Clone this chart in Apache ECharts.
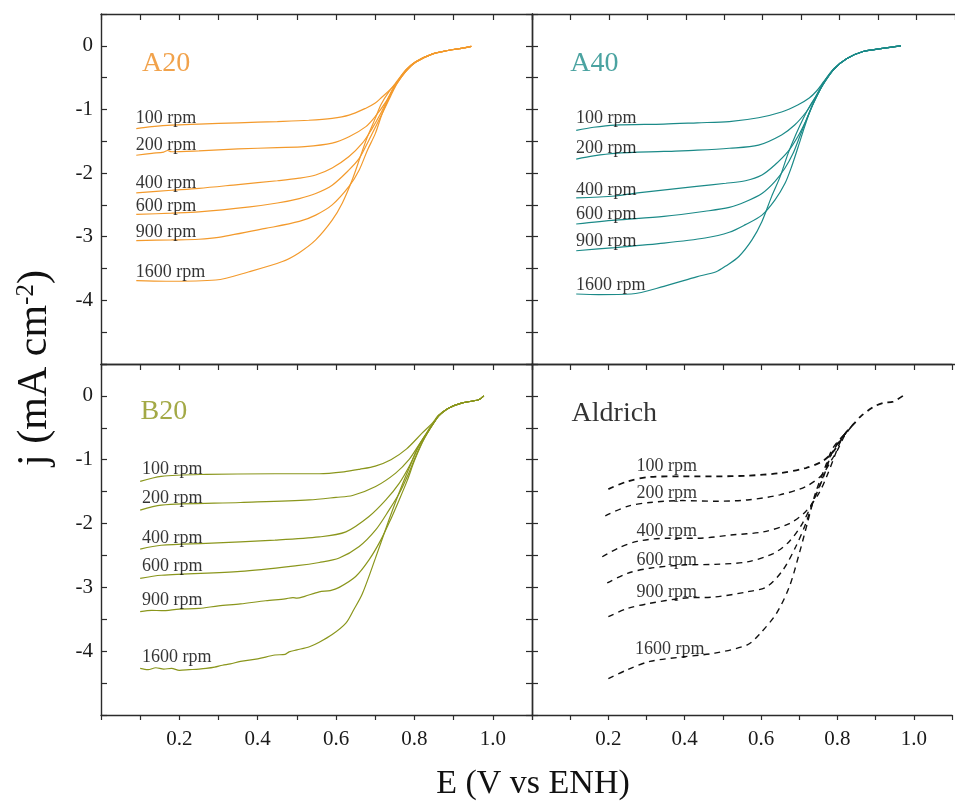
<!DOCTYPE html>
<html><head><meta charset="utf-8">
<script src="https://cdn.jsdelivr.net/npm/echarts@6/dist/echarts.min.js"></script>
<style>html,body{margin:0;padding:0;background:#fff}#c{width:955px;height:801px}</style>
</head><body><div id="c"></div>
<script>
// ---------- DATA (E in V vs ENH, j in mA cm^-2) ----------
const rpmLabels = ['100 rpm','200 rpm','400 rpm','600 rpm','900 rpm','1600 rpm'];
const panelNames = ['A20','A40','B20','Aldrich'];
const xTickLabels = [0.2,0.4,0.6,0.8,1.0];
const yTickLabels = [0,-1,-2,-3,-4];

// A20
const a20_100 = [[0.09,-1.30],[0.13,-1.27],[0.18,-1.245],[0.25,-1.23],[0.35,-1.21],[0.45,-1.19],[0.53,-1.17],[0.59,-1.14],[0.633,-1.09],[0.676,-0.98],[0.70,-0.90],[0.718,-0.80],[0.739,-0.68],[0.755,-0.56],[0.778,-0.38],[0.803,-0.25],[0.845,-0.13],[0.888,-0.07],[0.92,-0.04],[0.945,-0.01]];
const a20_200 = [[0.09,-1.72],[0.13,-1.69],[0.16,-1.67],[0.17,-1.645],[0.18,-1.665],[0.25,-1.65],[0.35,-1.62],[0.45,-1.60],[0.52,-1.585],[0.59,-1.53],[0.633,-1.43],[0.676,-1.27],[0.70,-1.11],[0.727,-0.88],[0.743,-0.70],[0.755,-0.58],[0.778,-0.38],[0.803,-0.25],[0.845,-0.13],[0.888,-0.07],[0.92,-0.04],[0.945,-0.01]];
const a20_400 = [[0.09,-2.31],[0.18,-2.27],[0.25,-2.24],[0.35,-2.18],[0.45,-2.12],[0.506,-2.08],[0.548,-2.03],[0.59,-1.92],[0.633,-1.74],[0.667,-1.53],[0.69,-1.32],[0.714,-1.06],[0.735,-0.80],[0.752,-0.60],[0.778,-0.39],[0.803,-0.25],[0.845,-0.13],[0.888,-0.07],[0.92,-0.04],[0.945,-0.01]];
const a20_600 = [[0.09,-2.65],[0.18,-2.63],[0.25,-2.61],[0.38,-2.53],[0.45,-2.47],[0.506,-2.40],[0.548,-2.32],[0.59,-2.19],[0.633,-1.95],[0.659,-1.77],[0.684,-1.48],[0.705,-1.22],[0.722,-1.01],[0.74,-0.78],[0.755,-0.60],[0.778,-0.40],[0.803,-0.26],[0.845,-0.13],[0.888,-0.07],[0.92,-0.04],[0.945,-0.01]];
const a20_900 = [[0.09,-3.06],[0.18,-3.05],[0.25,-3.04],[0.30,-3.01],[0.42,-2.87],[0.506,-2.76],[0.548,-2.66],[0.59,-2.50],[0.633,-2.21],[0.659,-1.95],[0.68,-1.64],[0.70,-1.38],[0.718,-1.06],[0.735,-0.82],[0.752,-0.62],[0.778,-0.40],[0.803,-0.26],[0.845,-0.13],[0.888,-0.07],[0.92,-0.04],[0.945,-0.01]];
const a20_1600 = [[0.09,-3.69],[0.166,-3.70],[0.293,-3.68],[0.378,-3.55],[0.463,-3.39],[0.506,-3.25],[0.548,-3.05],[0.59,-2.74],[0.616,-2.47],[0.641,-2.11],[0.662,-1.74],[0.68,-1.43],[0.70,-1.14],[0.714,-0.93],[0.735,-0.72],[0.752,-0.60],[0.778,-0.40],[0.803,-0.26],[0.845,-0.13],[0.888,-0.07],[0.92,-0.04],[0.945,-0.01]];

// A40
const a40_100 = [[0.115,-1.33],[0.16,-1.28],[0.216,-1.245],[0.343,-1.23],[0.43,-1.21],[0.513,-1.19],[0.589,-1.13],[0.649,-1.04],[0.691,-0.93],[0.721,-0.82],[0.74,-0.71],[0.759,-0.56],[0.785,-0.36],[0.819,-0.20],[0.861,-0.09],[0.912,-0.04],[0.959,0.0]];
const a40_200 = [[0.115,-1.78],[0.16,-1.73],[0.216,-1.69],[0.343,-1.66],[0.43,-1.64],[0.513,-1.61],[0.589,-1.56],[0.649,-1.40],[0.683,-1.245],[0.713,-1.04],[0.73,-0.88],[0.745,-0.72],[0.759,-0.57],[0.785,-0.36],[0.819,-0.20],[0.861,-0.09],[0.912,-0.04],[0.959,0.0]];
const a40_400 = [[0.115,-2.39],[0.216,-2.36],[0.275,-2.31],[0.428,-2.21],[0.504,-2.16],[0.555,-2.12],[0.598,-2.03],[0.632,-1.87],[0.666,-1.66],[0.691,-1.43],[0.713,-1.17],[0.73,-0.93],[0.745,-0.74],[0.759,-0.58],[0.785,-0.37],[0.819,-0.20],[0.861,-0.09],[0.912,-0.04],[0.959,0.0]];
const a40_600 = [[0.115,-2.80],[0.216,-2.74],[0.343,-2.68],[0.45,-2.60],[0.513,-2.54],[0.555,-2.45],[0.598,-2.32],[0.632,-2.13],[0.658,-1.92],[0.679,-1.69],[0.696,-1.43],[0.713,-1.17],[0.727,-0.96],[0.745,-0.74],[0.759,-0.58],[0.785,-0.37],[0.819,-0.20],[0.861,-0.09],[0.912,-0.04],[0.959,0.0]];
const a40_900 = [[0.115,-3.22],[0.216,-3.17],[0.343,-3.10],[0.45,-3.02],[0.513,-2.93],[0.555,-2.81],[0.598,-2.66],[0.632,-2.42],[0.658,-2.16],[0.675,-1.90],[0.692,-1.59],[0.709,-1.27],[0.724,-1.01],[0.742,-0.76],[0.759,-0.59],[0.785,-0.37],[0.819,-0.20],[0.861,-0.09],[0.912,-0.04],[0.959,0.0]];
const a40_1600 = [[0.115,-3.90],[0.173,-3.91],[0.258,-3.90],[0.343,-3.78],[0.428,-3.63],[0.479,-3.55],[0.504,-3.46],[0.538,-3.31],[0.572,-3.05],[0.598,-2.76],[0.623,-2.37],[0.645,-2.06],[0.666,-1.69],[0.687,-1.38],[0.708,-1.11],[0.724,-0.93],[0.742,-0.76],[0.759,-0.59],[0.785,-0.37],[0.819,-0.20],[0.861,-0.09],[0.912,-0.04],[0.959,0.0]];

// B20
const b20_100 = [[0.10,-1.34],[0.154,-1.26],[0.268,-1.23],[0.444,-1.22],[0.557,-1.22],[0.62,-1.19],[0.66,-1.15],[0.70,-1.10],[0.74,-1.00],[0.78,-0.83],[0.82,-0.58],[0.845,-0.43],[0.862,-0.30],[0.888,-0.19],[0.922,-0.11],[0.964,-0.06],[0.977,0.0]];
const b20_200 = [[0.10,-1.79],[0.154,-1.71],[0.356,-1.67],[0.532,-1.63],[0.60,-1.59],[0.642,-1.56],[0.701,-1.42],[0.752,-1.21],[0.786,-1.00],[0.811,-0.77],[0.837,-0.53],[0.855,-0.37],[0.862,-0.31],[0.888,-0.19],[0.922,-0.11],[0.964,-0.06],[0.977,0.0]];
const b20_400 = [[0.10,-2.40],[0.154,-2.34],[0.268,-2.31],[0.444,-2.26],[0.557,-2.21],[0.625,-2.13],[0.684,-1.89],[0.727,-1.63],[0.761,-1.37],[0.786,-1.11],[0.811,-0.79],[0.835,-0.54],[0.855,-0.37],[0.862,-0.31],[0.888,-0.19],[0.922,-0.11],[0.964,-0.06],[0.977,0.0]];
const b20_600 = [[0.10,-2.86],[0.154,-2.81],[0.356,-2.75],[0.50,-2.66],[0.557,-2.61],[0.608,-2.54],[0.659,-2.36],[0.701,-2.10],[0.735,-1.79],[0.761,-1.53],[0.782,-1.26],[0.803,-0.95],[0.82,-0.72],[0.837,-0.54],[0.855,-0.37],[0.862,-0.31],[0.888,-0.19],[0.922,-0.11],[0.964,-0.06],[0.977,0.0]];
const b20_900 = [[0.10,-3.38],[0.13,-3.36],[0.154,-3.365],[0.20,-3.34],[0.25,-3.33],[0.30,-3.29],[0.356,-3.26],[0.42,-3.21],[0.47,-3.18],[0.49,-3.16],[0.50,-3.17],[0.52,-3.14],[0.557,-3.07],[0.585,-3.05],[0.608,-3.00],[0.65,-2.83],[0.684,-2.57],[0.714,-2.26],[0.739,-1.94],[0.761,-1.63],[0.782,-1.32],[0.799,-1.03],[0.82,-0.73],[0.837,-0.54],[0.855,-0.37],[0.862,-0.31],[0.888,-0.19],[0.922,-0.11],[0.964,-0.06],[0.977,0.0]];
const b20_1600 = [[0.10,-4.27],[0.12,-4.29],[0.14,-4.26],[0.16,-4.28],[0.18,-4.27],[0.20,-4.30],[0.225,-4.29],[0.25,-4.28],[0.268,-4.27],[0.29,-4.25],[0.31,-4.22],[0.33,-4.20],[0.356,-4.16],[0.40,-4.12],[0.444,-4.06],[0.47,-4.05],[0.48,-4.01],[0.50,-3.98],[0.532,-3.93],[0.557,-3.86],[0.59,-3.74],[0.625,-3.56],[0.645,-3.35],[0.667,-3.10],[0.70,-2.55],[0.735,-1.94],[0.765,-1.45],[0.79,-1.08],[0.811,-0.78],[0.837,-0.54],[0.855,-0.37],[0.862,-0.31],[0.888,-0.19],[0.922,-0.11],[0.964,-0.06],[0.977,0.0]];

// Aldrich (the shared top branch is carried by the 100 rpm scan)
const ald_100 = [[0.20,-1.46],[0.25,-1.34],[0.309,-1.27],[0.394,-1.26],[0.479,-1.26],[0.564,-1.25],[0.649,-1.21],[0.717,-1.13],[0.759,-1.03],[0.785,-0.90],[0.80,-0.78],[0.819,-0.60],[0.844,-0.43],[0.861,-0.32],[0.895,-0.17],[0.921,-0.11],[0.946,-0.09],[0.976,0.02]];
const ald_200 = [[0.192,-1.88],[0.25,-1.73],[0.309,-1.67],[0.394,-1.64],[0.479,-1.65],[0.564,-1.63],[0.649,-1.55],[0.717,-1.42],[0.759,-1.24],[0.785,-1.00],[0.80,-0.85],[0.819,-0.62],[0.844,-0.43]];
const ald_400 = [[0.184,-2.52],[0.224,-2.39],[0.275,-2.28],[0.352,-2.23],[0.436,-2.23],[0.521,-2.18],[0.606,-2.13],[0.674,-2.00],[0.717,-1.81],[0.751,-1.53],[0.772,-1.26],[0.789,-1.00],[0.806,-0.74],[0.822,-0.58],[0.844,-0.43]];
const ald_600 = [[0.197,-2.93],[0.25,-2.78],[0.309,-2.70],[0.394,-2.65],[0.479,-2.64],[0.564,-2.60],[0.632,-2.47],[0.674,-2.28],[0.708,-2.00],[0.738,-1.63],[0.764,-1.26],[0.785,-0.90],[0.80,-0.75],[0.822,-0.58]];
const ald_900 = [[0.20,-3.46],[0.25,-3.33],[0.309,-3.25],[0.394,-3.17],[0.479,-3.15],[0.564,-3.07],[0.615,-2.99],[0.657,-2.73],[0.691,-2.36],[0.717,-2.00],[0.738,-1.63],[0.759,-1.32],[0.781,-0.95],[0.80,-0.75],[0.822,-0.58]];
const ald_1600 = [[0.20,-4.43],[0.25,-4.29],[0.309,-4.16],[0.394,-4.09],[0.479,-4.03],[0.564,-3.90],[0.598,-3.72],[0.64,-3.41],[0.674,-2.99],[0.70,-2.47],[0.721,-2.00],[0.742,-1.53],[0.768,-1.11],[0.785,-0.85],[0.80,-0.72],[0.822,-0.58]];

// label anchor positions (data coords: E, j)
const a20LabelPos = [[0.09,-1.15],[0.09,-1.57],[0.09,-2.17],[0.09,-2.53],[0.09,-2.94],[0.09,-3.57]];
const a40LabelPos = [[0.116,-1.15],[0.116,-1.62],[0.116,-2.27],[0.116,-2.65],[0.116,-3.08],[0.116,-3.77]];
const b20LabelPos = [[0.106,-1.16],[0.106,-1.61],[0.106,-2.24],[0.106,-2.68],[0.106,-3.21],[0.106,-4.11]];
const aldLabelPos = [[0.275,-1.11],[0.275,-1.54],[0.275,-2.13],[0.275,-2.59],[0.275,-3.08],[0.271,-3.98]];
const panelNamePos = [[0.106,-0.29],[0.101,-0.29],[0.102,-0.26],[0.105,-0.28]];

// ---------- CHART ----------
const SERIF = "'Liberation Serif','Times New Roman',serif";
const AX = '#2b2b2b';
const panels = [
  {curves:[a20_100,a20_200,a20_400,a20_600,a20_900,a20_1600], labels:a20LabelPos, color:'#F39A2C', nameColor:'#EE8B1E', dash:false},
  {curves:[a40_100,a40_200,a40_400,a40_600,a40_900,a40_1600], labels:a40LabelPos, color:'#1B8A88', nameColor:'#1E8C8A', dash:false},
  {curves:[b20_100,b20_200,b20_400,b20_600,b20_900,b20_1600], labels:b20LabelPos, color:'#8A961C', nameColor:'#8C9418', dash:false},
  {curves:[ald_100,ald_200,ald_400,ald_600,ald_900,ald_1600], labels:aldLabelPos, color:'#111111', nameColor:'#000000', dash:true}
];
const grids = [
  {left:101, top:14, width:431, height:350},
  {left:532, top:14, width:432, height:350},
  {left:101, top:364, width:431, height:351},
  {left:532, top:364, width:432, height:351}
];

const xAxes = [], yAxes = [], series = [];
function xFmt(v){ const k = Math.round(v*10); return xTickLabels.some(t => Math.round(t*10) === k) ? (k/10).toFixed(1) : ''; }
function yFmt(v){ const k = Math.round(v*2); return (k % 2 === 0 && yTickLabels.indexOf(k/2) >= 0) ? String(k/2) : ''; }

grids.forEach((g, i) => {
  const isBottom = i >= 2, isLeft = (i % 2 === 0);
  const baseX = {type:'value', gridIndex:i, min:0, max:1.1, interval:0.1, splitLine:{show:false},
    axisLine:{show:true, onZero:false, lineStyle:{color:AX, width:1.4}}};
  xAxes.push(Object.assign({}, baseX, {position:'bottom',
    axisTick:{show:isBottom, inside:false, length:5, lineStyle:{color:AX, width:1.2}},
    axisLabel:{show:isBottom, interval:0, formatter:xFmt, fontFamily:SERIF, fontSize:21, color:'#1a1a1a', margin:14, showMinLabel:true, showMaxLabel:true, hideOverlap:false}}));
  xAxes.push(Object.assign({}, baseX, {position:'top',
    axisTick:{show:true, inside:true, length:6, lineStyle:{color:AX, width:1.2}},
    axisLabel:{show:false}}));
  const baseY = {type:'value', gridIndex:i, min:-5, max:0.5, interval:0.5, splitLine:{show:false},
    axisLine:{show:true, onZero:false, lineStyle:{color:AX, width:1.4}}};
  yAxes.push(Object.assign({}, baseY, {position:'left',
    axisTick:{show:true, inside:true, length:6, lineStyle:{color:AX, width:1.2}},
    axisLabel:{show:isLeft, interval:0, formatter:yFmt, fontFamily:SERIF, fontSize:21, color:'#1a1a1a', margin:8, showMinLabel:true, showMaxLabel:true, hideOverlap:false}}));
  yAxes.push(Object.assign({}, baseY, {position:'right',
    axisLine:{show:isLeft, onZero:false, lineStyle:{color:AX, width:1.4}},
    axisTick:{show:isLeft, inside:true, length:6, lineStyle:{color:AX, width:1.2}},
    axisLabel:{show:false}}));

  const p = panels[i];
  p.curves.forEach((d, j) => {
    series.push({type:'line', name:panelNames[i]+' '+rpmLabels[j], xAxisIndex:2*i, yAxisIndex:2*i, data:d,
      showSymbol:false, symbol:'none', smooth:0.3, silent:true, animation:false,
      lineStyle:{color:p.color, width:p.dash?(j===0?1.8:1.4):1.2, type:p.dash?[6,5]:'solid'}});
  });
  series.push({type:'scatter', xAxisIndex:2*i, yAxisIndex:2*i, symbolSize:1, silent:true, animation:false, z:5,
    itemStyle:{color:'rgba(0,0,0,0)'},
    data:p.labels.map((pos, j) => ({value:pos, label:{formatter:rpmLabels[j]}})),
    label:{show:true, position:[0,0], align:'left', verticalAlign:'middle', fontFamily:SERIF, fontSize:18, color:'#000'}});
  series.push({type:'scatter', xAxisIndex:2*i, yAxisIndex:2*i, symbolSize:1, silent:true, animation:false, z:5,
    itemStyle:{color:'rgba(0,0,0,0)'},
    data:[{value:panelNamePos[i], label:{formatter:panelNames[i]}}],
    label:{show:true, position:[0,0], align:'left', verticalAlign:'middle', fontFamily:SERIF, fontSize:28, color:p.nameColor}});
});

const chart = echarts.init(document.getElementById('c'), null, {renderer:'canvas'});
chart.setOption({
  animation:false,
  backgroundColor:'#fff',
  grid:grids,
  xAxis:xAxes,
  yAxis:yAxes,
  series:series,
  graphic:[
    {type:'text', x:533, y:784, style:{text:'E (V vs ENH)', font:"34px "+SERIF, fill:'#111', align:'center', verticalAlign:'middle'}},
    {type:'text', x:35, y:368, rotation:Math.PI/2,
     style:{text:'j (mA cm{sup|-2})', font:"42px "+SERIF, fill:'#111', align:'center', verticalAlign:'middle',
       rich:{sup:{fontSize:25, fontFamily:SERIF, fill:'#111', verticalAlign:'top', padding:[0,0,17,0]}}}}
  ]
});
</script></body></html>
